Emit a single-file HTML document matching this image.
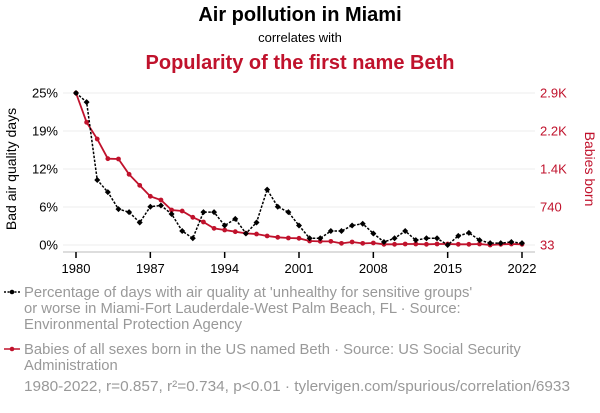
<!DOCTYPE html>
<html><head><meta charset="utf-8"><style>
body{margin:0;background:#fff;width:600px;height:408px;overflow:hidden;font-family:"Liberation Sans",sans-serif}
svg text{font-family:"Liberation Sans",sans-serif}
</style></head><body>
<svg id="c" width="600" height="408" xmlns="http://www.w3.org/2000/svg">
<text x="300" y="21" text-anchor="middle" font-size="20" font-weight="bold" fill="#000">Air pollution in Miami</text>
<text x="300" y="42" text-anchor="middle" font-size="13" fill="#000">correlates with</text>
<text x="300" y="69" text-anchor="middle" font-size="20" font-weight="bold" fill="#c0122c">Popularity of the first name Beth</text>
<g id="grid"></g><g id="axes"></g><g id="marks"></g>
<text transform="translate(16,169) rotate(-90)" text-anchor="middle" font-size="14" fill="#000">Bad air quality days</text>
<text transform="translate(585,169) rotate(90)" text-anchor="middle" font-size="14" fill="#c0122c">Babies born</text>
<g>
<line x1="4" y1="292" x2="20" y2="292" stroke="#000" stroke-dasharray="2,1.5" stroke-width="1.5"/><circle cx="12" cy="292" r="2.3" fill="#000"/>
<text x="24" y="297" font-size="14.8" fill="#999">Percentage of days with air quality at 'unhealthy for sensitive groups'</text>
<text x="24" y="313" font-size="14.8" fill="#999">or worse in Miami-Fort Lauderdale-West Palm Beach, FL · Source:</text>
<text x="24" y="329" font-size="14.8" fill="#999">Environmental Protection Agency</text></g>
<g>
<line x1="4" y1="349" x2="20" y2="349" stroke="#c0122c" stroke-width="1.5"/><circle cx="12" cy="349" r="2.3" fill="#c0122c"/>
<text x="24" y="354" font-size="14.8" fill="#999">Babies of all sexes born in the US named Beth · Source: US Social Security</text>
<text x="24" y="370" font-size="14.8" fill="#999">Administration</text></g>
<text x="24" y="391" font-size="15" textLength="546" lengthAdjust="spacingAndGlyphs" fill="#999">1980-2022, r=0.857, r²=0.734, p&lt;0.01 · tylervigen.com/spurious/correlation/6933</text>
</svg>
<script>
const years=[];for(let y=1980;y<=2022;y++)years.push(y);
const airValues=[25,23.5,10.7,8.7,5.9,5.4,3.7,6.3,6.5,5.1,2.3,1.1,5.4,5.4,3.2,4.3,1.9,3.7,9.1,6.3,5.4,3.2,1.1,1.1,2.3,2.3,3.2,3.5,1.9,0.5,1.1,2.3,0.8,1.1,1.1,0,1.5,2.0,0.8,0.3,0.3,0.5,0.3];
const bethValues=[2900,2347,2032,1661,1655,1366,1158,951,882,693,674,555,467,347,316,284,253,240,203,178,165,159,108,102,102,64,90,64,71,46,46,52,52,46,52,52,46,46,52,33,46,52,46];
const leftTicks=[0,6.25,12.5,18.75,25];const leftLabels=["0%","6%","12%","19%","25%"];
const rightTicks=[33,750,1467,2183,2900];const rightLabels=["33","740","1.4K","2.2K","2.9K"];
const xTicks=[1980,1987,1994,2001,2008,2015,2022];
const NS="http://www.w3.org/2000/svg";
const x=v=>76+(v-1980)*(446/42);
const yL=v=>245-v*(152/25);
const yR=v=>245-(v-33)*(152/2867);
function el(t,a,p){const e=document.createElementNS(NS,t);for(const k in a)e.setAttribute(k,a[k]);document.getElementById(p).appendChild(e);return e;}
leftTicks.forEach((t,i)=>{
const g=el('line',{x1:63,x2:535,y1:yL(t),y2:yL(t),stroke:'#eee','stroke-width':1},'grid');


const l=el('text',{x:58,y:yL(t)+4.5,'text-anchor':'end','font-size':13,fill:'#000'},'axes');l.textContent=leftLabels[i];


});
rightTicks.forEach((t,i)=>{
const l=el('text',{x:540,y:yR(t)+4.5,'font-size':13,fill:'#c0122c'},'axes');l.textContent=rightLabels[i];


});
const ax=el('line',{x1:63,x2:535,y1:252,y2:252,stroke:'#bbb','stroke-width':1},'axes');


xTicks.forEach(t=>{
const k=el('line',{x1:x(t),x2:x(t),y1:252,y2:258,stroke:'#000','stroke-width':1.5},'axes');


const l=el('text',{x:x(t),y:273,'text-anchor':'middle','font-size':13,fill:'#000'},'axes');l.textContent=t;


});
const bp=el('polyline',{points:bethValues.map((v,i)=>x(years[i])+','+yR(v)).join(' '),fill:'none',stroke:'#c0122c','stroke-width':1.8},'marks');


bethValues.forEach((v,i)=>{const c=el('circle',{cx:x(years[i]),cy:yR(v),r:2.4,fill:'#c0122c'},'marks');

});
const ap=el('polyline',{points:airValues.map((v,i)=>x(years[i])+','+yL(v)).join(' '),fill:'none',stroke:'#000','stroke-width':1.5,'stroke-dasharray':'2.5,1.5'},'marks');


airValues.forEach((v,i)=>{const cx=x(years[i]),cy=yL(v);const c=el('path',{d:`M${cx},${cy-3}L${cx+3},${cy}L${cx},${cy+3}L${cx-3},${cy}Z`,fill:'#000'},'marks');

});
</script>
</body></html>
